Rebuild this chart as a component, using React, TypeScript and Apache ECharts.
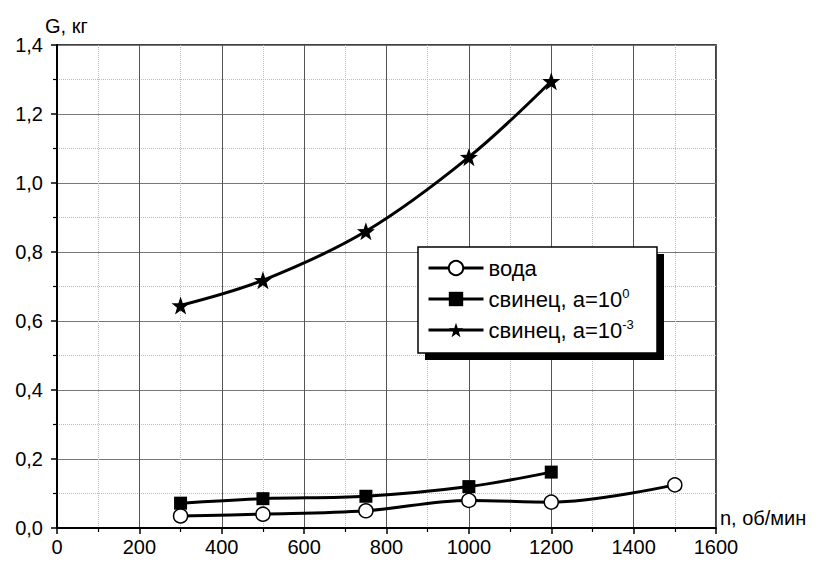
import React, { useEffect, useRef } from "react";
import * as echarts from "echarts";

const nWater = [300, 500, 750, 1000, 1200, 1500];
const gWater = [0.035, 0.04, 0.05, 0.08, 0.075, 0.125];
const nLead = [300, 500, 750, 1000, 1200];
const gLeadA0 = [0.072, 0.085, 0.092, 0.12, 0.162];
const gLeadA3 = [0.645, 0.718, 0.86, 1.075, 1.295];

const seriesNames = ["вода", "свинец, a=10^0", "свинец, a=10^-3"];
const legendBase = ["вода", "свинец, a=10", "свинец, a=10"];
const legendSup = ["", "0", "-3"];

const xTitle = "n, об/мин";
const yTitle = "G, кг";

const STAR =
  "path://M10 0 L12.35 6.76 L19.51 6.91 L13.8 11.24 L15.88 18.09 L10 14 L4.12 18.09 L6.2 11.24 L0.49 6.91 L7.65 6.76 Z";

const FONT = "'Liberation Sans', Arial, sans-serif";

export default function App() {
  const ref = useRef<HTMLDivElement>(null);
  useEffect(() => {
    const chart = echarts.init(ref.current!, null, { renderer: "svg" });
    const pair = (xs: number[], ys: number[]) => xs.map((x, i) => [x, ys[i]]);
    const lineStyle = { color: "#000", width: 3 };
    chart.setOption({
      animation: false,
      backgroundColor: "#fff",
      textStyle: { fontFamily: FONT },
      grid: {
        left: 57,
        right: 107,
        top: 45,
        bottom: 33,
        show: true,
        borderColor: "#000",
        borderWidth: 1.5,
        backgroundColor: "transparent",
      },
      xAxis: {
        type: "value",
        min: 0,
        max: 1600,
        interval: 200,
        axisLine: { show: true, lineStyle: { color: "#000", width: 2 } },
        axisTick: { show: true, length: 6, lineStyle: { color: "#000", width: 1.5 } },
        minorTick: { show: true, splitNumber: 2, length: 4, lineStyle: { color: "#000", width: 1.2 } },
        splitLine: { show: true, lineStyle: { color: "#555", width: 1 } },
        minorSplitLine: { show: true, lineStyle: { color: "#bbb", width: 1, type: "dotted" } },
        axisLabel: {
          color: "#000",
          fontSize: 20,
          fontFamily: FONT,
          margin: 9,
          formatter: (v: number) => String(v),
        },
      },
      yAxis: {
        type: "value",
        min: 0,
        max: 1.4,
        interval: 0.2,
        axisLine: { show: true, lineStyle: { color: "#000", width: 2 } },
        axisTick: { show: true, length: 6, lineStyle: { color: "#000", width: 1.5 } },
        minorTick: { show: true, splitNumber: 2, length: 4, lineStyle: { color: "#000", width: 1.2 } },
        splitLine: { show: true, lineStyle: { color: "#777", width: 1 } },
        minorSplitLine: { show: true, lineStyle: { color: "#bbb", width: 1, type: "dotted" } },
        axisLabel: {
          color: "#000",
          fontSize: 20,
          fontFamily: FONT,
          margin: 14,
          formatter: (v: number) => v.toFixed(1).replace(".", ","),
        },
      },
      legend: {
        show: true,
        orient: "vertical",
        left: 427,
        top: 257,
        z: 200,
        itemWidth: 55,
        itemHeight: 18,
        itemGap: 8,
        padding: 0,
        lineStyle: { color: "#000", width: 3 },
        textStyle: {
          color: "#000",
          fontSize: 22,
          fontFamily: FONT,
          rich: {
            t: { fontSize: 22, fontFamily: FONT, color: "#000", lineHeight: 24 },
            s: { fontSize: 13, fontFamily: FONT, color: "#000", verticalAlign: "top", lineHeight: 24, padding: [0, 0, 8, 0] },
          },
        },
        formatter: (name: string) => {
          const i = seriesNames.indexOf(name);
          return legendSup[i] ? `{t|${legendBase[i]}}{s|${legendSup[i]}}` : `{t|${legendBase[i]}}`;
        },
        data: seriesNames,
      },
      graphic: [
        { type: "rect", z: 100, shape: { x: 425, y: 254, width: 239, height: 106 }, style: { fill: "#000" } },
        {
          type: "rect",
          z: 101,
          shape: { x: 418, y: 247, width: 239, height: 106 },
          style: { fill: "#fff", stroke: "#000", lineWidth: 1.5 },
        },
        {
          type: "text",
          left: 45,
          top: 16,
          style: { text: yTitle, fontSize: 20, fontFamily: FONT, fill: "#000" },
        },
        {
          type: "text",
          left: 720,
          top: 508,
          style: { text: xTitle, fontSize: 20, fontFamily: FONT, fill: "#000" },
        },
      ],
      series: [
        {
          name: seriesNames[0],
          type: "line",
          smooth: 0.35,
          data: pair(nWater, gWater),
          lineStyle,
          symbol: "circle",
          symbolSize: 14,
          itemStyle: { color: "#fff", borderColor: "#000", borderWidth: 1.5 },
          z: 3,
        },
        {
          name: seriesNames[1],
          type: "line",
          smooth: 0.35,
          data: pair(nLead, gLeadA0),
          lineStyle,
          symbol: "rect",
          symbolSize: 13,
          itemStyle: { color: "#000" },
          z: 3,
        },
        {
          name: seriesNames[2],
          type: "line",
          smooth: 0.35,
          data: pair(nLead, gLeadA3),
          lineStyle,
          symbol: STAR,
          symbolSize: 18,
          itemStyle: { color: "#000" },
          z: 3,
        },
      ],
    });
    return () => chart.dispose();
  }, []);
  return <div ref={ref} style={{ position: "fixed", left: 0, top: 0, width: 823, height: 561 }} />;
}
